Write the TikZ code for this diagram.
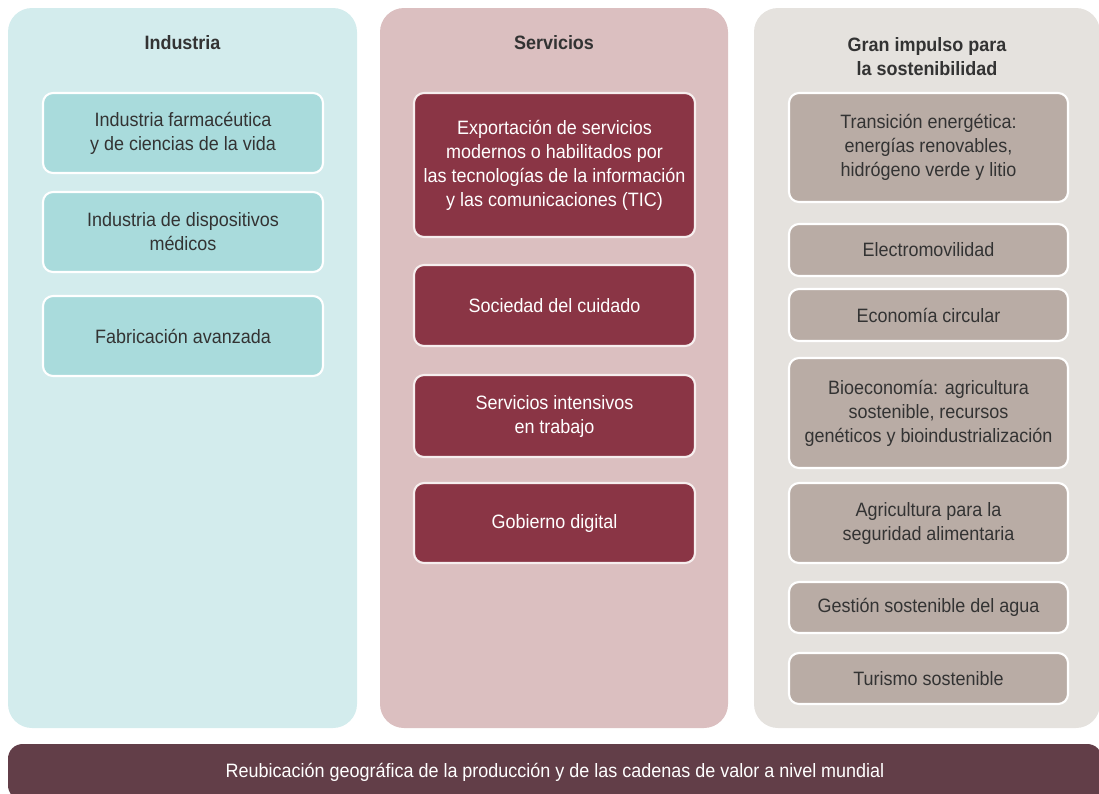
\documentclass[tikz,border=0pt]{standalone}
\usepackage{fontspec}
\setmainfont{Liberation Sans}[FakeStretch=0.93]
\definecolor{pOneBg}{HTML}{D3ECED}
\definecolor{pOneBox}{HTML}{A9DBDC}
\definecolor{pTwoBg}{HTML}{DBBFC0}
\definecolor{pTwoBox}{HTML}{8A3545}
\definecolor{pTwoLine}{HTML}{F6EEEE}
\definecolor{pThrBg}{HTML}{E5E2DE}
\definecolor{pThrBox}{HTML}{B9ACA5}
\definecolor{barFill}{HTML}{623E48}
\definecolor{txtDark}{HTML}{333333}
\begin{document}
\begin{tikzpicture}[x=0.75pt,y=-0.75pt,
  every node/.style={font=\fontsize{14.5pt}{18pt}\selectfont, align=center, inner sep=0pt, outer sep=0pt},
  panel/.style={rectangle, rounded corners=18pt, draw=none},
  ttl/.style={font=\bfseries\fontsize{14.5pt}{18pt}\selectfont, text=txtDark},
  ibox/.style={rectangle, rounded corners=7.5pt, line width=1.6pt},
  onebox/.style={ibox, fill=pOneBox, draw=white, text=txtDark, minimum width=210pt},
  twobox/.style={ibox, fill=pTwoBox, draw=pTwoLine, text=white, minimum width=210.75pt},
  thrbox/.style={ibox, fill=pThrBox, draw=white, text=txtDark, minimum width=209.25pt}]
\useasboundingbox (0,0) rectangle (1099,793);
\clip (0,0) rectangle (1099,793);
% panels
\node[panel, fill=pOneBg, minimum width=261.75pt, minimum height=540pt] (p1) at (182.5,368) {};
\node[panel, fill=pTwoBg, minimum width=261pt, minimum height=540pt] (p2) at (554,368) {};
\node[panel, fill=pThrBg, minimum width=259.5pt, minimum height=540pt] (p3) at (927,368) {};
% titles
\node[ttl] (t1) at (182.5,43) {Industria};
\node[ttl] (t2) at (554,43) {Servicios};
\node[ttl] (t3) at (927,57) {Gran impulso para\\la sostenibilidad};
% industria
\node[onebox, minimum height=60pt] (a1) at (183,133) {Industria farmacéutica\\y de ciencias de la vida};
\node[onebox, minimum height=60pt] (a2) at (183,232) {Industria de dispositivos\\médicos};
\node[onebox, minimum height=60pt] (a3) at (183,336) {Fabricación avanzada};
% servicios
\node[twobox, minimum height=108pt] (b1) at (554.5,165) {Exportación de servicios\\modernos o habilitados por\\las tecnologías de la información\\y las comunicaciones (TIC)};
\node[twobox, minimum height=60.75pt] (b2) at (554.5,305.5) {Sociedad del cuidado};
\node[twobox, minimum height=61.5pt] (b3) at (554.5,416) {Servicios intensivos\\en trabajo};
\node[twobox, minimum height=60pt] (b4) at (554.5,523) {Gobierno digital};
% sostenibilidad
\node[thrbox, minimum height=81.75pt] (c1) at (928.5,147.5) {Transición energética:\\energías renovables,\\hidrógeno verde y litio};
\node[thrbox, minimum height=39pt] (c2) at (928.5,250) {Electromovilidad};
\node[thrbox, minimum height=39pt] (c3) at (928.5,315) {Economía circular};
\node[thrbox, minimum height=82.5pt] (c4) at (928.5,413) {Bioeconomía: agricultura\\sostenible, recursos\\genéticos y bioindustrialización};
\node[thrbox, minimum height=60pt] (c5) at (928.5,523) {Agricultura para la\\seguridad alimentaria};
\node[thrbox, minimum height=38.25pt] (c6) at (928.5,607.5) {Gestión sostenible del agua};
\node[thrbox, minimum height=38.25pt] (c7) at (928.5,678.5) {Turismo sostenible};
% bottom bar
\node[rectangle, rounded corners=11pt, fill=barFill, text=white, minimum width=820.5pt, minimum height=42pt] (bar) at (555,772) {Reubicación geográfica de la producción y de las cadenas de valor a nivel mundial};
\end{tikzpicture}
\end{document}
